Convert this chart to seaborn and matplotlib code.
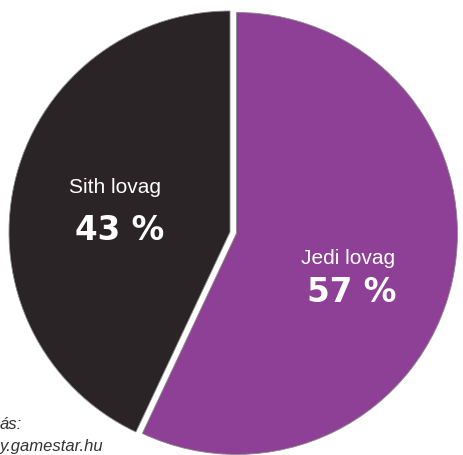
import matplotlib
matplotlib.use("Agg")
import matplotlib.pyplot as plt
import seaborn as sns

# Data
categories = ["Jedi lovag", "Sith lovag"]
values = [57, 43]
value_labels = ["57 %", "43 %"]
colors = ["#8e3f96", "#2b2427"]
source_lines = ["ás:", "y.gamestar.hu"]

sns.set_theme(style="white")
plt.rcParams['font.family'] = ['Liberation Sans', 'DejaVu Sans']

W, H = 464, 456
fig = plt.figure(figsize=(W / 100, H / 100), dpi=100)
ax = fig.add_axes([0, 0, 1, 1])

R_px = 221.0
cx_px, cy_px = 230.0, 233.0  # from top-left

wedges, _ = ax.pie(values, colors=colors, startangle=90, counterclock=False,
                   radius=1.0, explode=[0.03, 0.0],
                   wedgeprops=dict(edgecolor="#8a8a8a", linewidth=0.6))

ax.set_xlim(-cx_px / R_px, (W - cx_px) / R_px)
ax.set_ylim(-(H - cy_px) / R_px, cy_px / R_px)
ax.set_aspect('auto')
ax.axis('off')

def px(x, y):
    return ((x - cx_px) / R_px, (cy_px - y) / R_px)

# labels
ax.text(*px(348, 258), categories[0], color="white", fontsize=15,
        ha="center", va="center")
ax.text(*px(352, 292), value_labels[0], color="white", fontsize=23.5,
        fontweight="bold", family="DejaVu Sans", ha="center", va="center")
ax.text(*px(115, 188), categories[1], color="white", fontsize=15,
        ha="center", va="center")
ax.text(*px(120, 231), value_labels[1], color="white", fontsize=23.5,
        fontweight="bold", family="DejaVu Sans", ha="center", va="center")

# source text (cut-off at left edge in reference)
fig.text(0.0, 1 - 425 / H, source_lines[0], color="#333333", fontsize=12,
         style="italic", ha="left", va="center")
fig.text(0.0, 1 - 447 / H, source_lines[1], color="#333333", fontsize=12,
         style="italic", ha="left", va="center")

fig.savefig("out.png", dpi=100, facecolor="white")
